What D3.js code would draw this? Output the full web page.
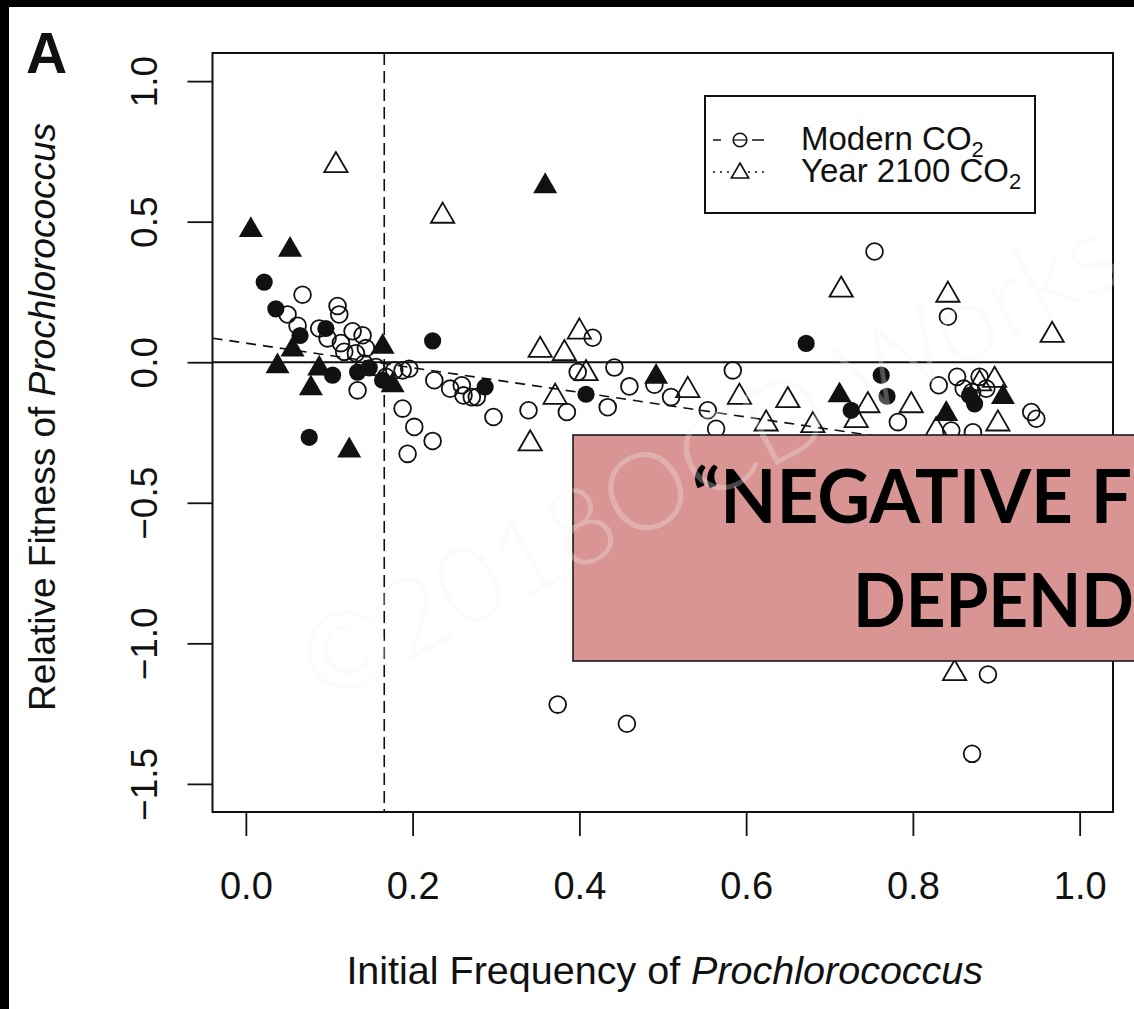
<!DOCTYPE html>
<html><head><meta charset="utf-8">
<script src="https://cdn.jsdelivr.net/npm/d3@7"></script>
<style>html,body{margin:0;padding:0;background:#fff;overflow:hidden}</style>
</head><body><svg id="c" width="1134" height="1009"></svg>
<script>
// ---- data ----
const xTicks = [0, 0.2, 0.4, 0.6, 0.8, 1.0];
const yTicks = [-1.5, -1.0, -0.5, 0.0, 0.5, 1.0];
const legendLabels = ["Modern CO", "Year 2100 CO"];
const thresholdX = 0.166;
const regression = {intercept: 0.068, slope: -0.438};

// Modern CO2, open circles [x, y]
const modernOpen = [
  [0.068,0.24],[0.050,0.17],[0.062,0.13],[0.088,0.12],[0.110,0.20],[0.112,0.17],[0.098,0.085],
  [0.128,0.11],[0.140,0.096],[0.114,0.068],[0.118,0.037],[0.132,0.032],[0.144,0.05],[0.134,-0.10],
  [0.142,-0.005],[0.156,-0.017],[0.168,-0.052],[0.178,-0.029],[0.188,-0.029],[0.196,-0.023],
  [0.226,-0.064],[0.188,-0.165],[0.202,-0.23],[0.224,-0.28],[0.194,-0.326],
  [0.416,0.087],[0.398,-0.035],[0.442,-0.019],[0.46,-0.086],[0.49,-0.08],[0.245,-0.094],
  [0.259,-0.082],[0.261,-0.118],[0.271,-0.124],[0.277,-0.124],[0.297,-0.195],[0.339,-0.171],
  [0.385,-0.177],[0.434,-0.16],
  [0.754,0.394],[0.584,-0.029],[0.510,-0.124],[0.554,-0.171],[0.564,-0.237],[0.782,-0.213],
  [0.842,0.162],[0.831,-0.082],[0.853,-0.052],[0.861,-0.094],[0.871,-0.106],[0.880,-0.052],
  [0.888,-0.094],[0.942,-0.177],[0.948,-0.201],[0.846,-0.243],[0.872,-0.249],
  [0.374,-1.218],[0.457,-1.286],[0.890,-1.111],[0.871,-1.393]
];
// Modern CO2, filled circles
const modernFilled = [
  [0.022,0.285],[0.036,0.19],[0.065,0.095],[0.096,0.12],[0.104,-0.046],[0.134,-0.035],
  [0.148,-0.02],[0.164,-0.064],[0.224,0.076],[0.076,-0.267],[0.287,-0.088],[0.408,-0.114],
  [0.672,0.067],[0.726,-0.171],[0.762,-0.046],[0.769,-0.121],[0.874,-0.148],[0.868,-0.118]
];
// Year 2100 CO2, open triangles
const futureOpen = [
  [0.108,0.70],[0.236,0.52],[0.40,0.108],[0.353,0.043],[0.382,0.031],[0.408,-0.04],
  [0.371,-0.124],[0.341,-0.29],[0.714,0.257],[0.530,-0.10],[0.592,-0.124],[0.650,-0.136],
  [0.624,-0.219],[0.680,-0.225],[0.746,-0.154],[0.732,-0.207],[0.842,0.239],[0.967,0.096],
  [0.798,-0.154],[0.880,-0.076],[0.898,-0.064],[0.902,-0.219],[0.828,-0.243],[0.850,-1.107]
];
// Year 2100 CO2, filled triangles
const futureFilled = [
  [0.006,0.47],[0.053,0.40],[0.056,0.045],[0.038,-0.015],[0.088,-0.023],[0.078,-0.093],
  [0.164,0.055],[0.176,-0.082],[0.124,-0.314],[0.359,0.626],[0.492,-0.052],[0.712,-0.118],
  [0.908,-0.124],[0.840,-0.184]
];
const calloutLines = ["\u201CNEGATIVE F", "DEPEND"];

// ---- drawing ----
const svg = d3.select("#c");
const FONT = "'Liberation Sans', Arial, Helvetica, sans-serif";
svg.append("rect").attr("width",1134).attr("height",1009).attr("fill","#fff");

const L = 212.5, R = 1113, T = 53, B = 812;
const x = d3.scaleLinear().domain([-0.04, 1.04]).range([L, R]);
const y = d3.scaleLinear().domain([-1.6, 1.1]).range([B, T]);

// reference lines
svg.append("line").attr("x1",L).attr("x2",R).attr("y1",y(0)).attr("y2",y(0))
  .attr("stroke","#111").attr("stroke-width",2);
svg.append("line").attr("x1",x(thresholdX)).attr("x2",x(thresholdX)).attr("y1",T).attr("y2",B)
  .attr("stroke","#111").attr("stroke-width",1.6).attr("stroke-dasharray","12,6");
const xr0 = x.invert(L), xr1 = x.invert(R);
svg.append("line")
  .attr("x1",L).attr("y1",y(regression.intercept + regression.slope*xr0))
  .attr("x2",R).attr("y2",y(regression.intercept + regression.slope*xr1))
  .attr("stroke","#111").attr("stroke-width",1.6).attr("stroke-dasharray","10,7");

// points
const tri = d3.symbol().type(d3.symbolTriangle).size(235);
const g = svg.append("g");
g.selectAll("circle.mo").data(modernOpen).join("circle")
  .attr("cx",d=>x(d[0])).attr("cy",d=>y(d[1])).attr("r",8.4)
  .attr("fill","none").attr("stroke","#111").attr("stroke-width",1.8);
g.selectAll("path.fo").data(futureOpen).join("path")
  .attr("transform",d=>`translate(${x(d[0])},${y(d[1])})`).attr("d",tri)
  .attr("fill","none").attr("stroke","#111").attr("stroke-width",1.8);
g.selectAll("circle.mf").data(modernFilled).join("circle")
  .attr("cx",d=>x(d[0])).attr("cy",d=>y(d[1])).attr("r",8.6).attr("fill","#111");
g.selectAll("path.ff").data(futureFilled).join("path")
  .attr("transform",d=>`translate(${x(d[0])},${y(d[1])})`)
  .attr("d",d3.symbol().type(d3.symbolTriangle).size(250)).attr("fill","#111");

// box
svg.append("rect").attr("x",L).attr("y",T).attr("width",R-L).attr("height",B-T)
  .attr("fill","none").attr("stroke","#111").attr("stroke-width",2);

// axes
const fmt = d3.format(".1f");
const xa = svg.append("g").attr("transform",`translate(0,${B})`)
  .call(d3.axisBottom(x).tickValues(xTicks).tickSize(24).tickFormat(fmt));
xa.select(".domain").remove();
xa.selectAll("line").attr("stroke","#111").attr("stroke-width",1.8);
xa.selectAll("text").attr("y",87).attr("dy",0).attr("fill","#111")
  .style("font-family",FONT).style("font-size","38px");

const ya = svg.append("g").attr("transform",`translate(${L},0)`)
  .call(d3.axisLeft(y).tickValues(yTicks).tickSize(25).tickFormat(fmt));
ya.select(".domain").remove();
ya.selectAll("line").attr("stroke","#111").attr("stroke-width",1.8);
ya.selectAll("text").attr("transform","rotate(-90)").attr("x",0).attr("y",-55.5).attr("dy",0)
  .attr("text-anchor","middle").attr("fill","#111")
  .style("font-family",FONT).style("font-size","37px");

// titles
const xt = svg.append("text").attr("x",(L+R)/2 + 2).attr("y",984).attr("text-anchor","middle")
  .attr("fill","#111").style("font-family",FONT).style("font-size","39.5px");
xt.append("tspan").text("Initial Frequency of ");
xt.append("tspan").attr("font-style","italic").text("Prochlorococcus");
const yt = svg.append("text").attr("transform","translate(55,417) rotate(-90)")
  .attr("text-anchor","middle").attr("fill","#111").style("font-family",FONT).style("font-size","37px");
yt.append("tspan").text("Relative Fitness of ");
yt.append("tspan").attr("font-style","italic").text("Prochlorococcus");

svg.append("text").attr("x",26).attr("y",73).attr("fill","#111")
  .style("font-family",FONT).style("font-size","57px").style("font-weight","bold").text("A");

// legend
const lg = svg.append("g");
lg.append("rect").attr("x",705).attr("y",96).attr("width",330).attr("height",117)
  .attr("fill","#fff").attr("stroke","#111").attr("stroke-width",2);
const rows = [140, 172];
lg.append("line").attr("x1",713).attr("x2",721).attr("y1",rows[0]).attr("y2",rows[0])
  .attr("stroke","#111").attr("stroke-width",1.5);
lg.append("line").attr("x1",752).attr("x2",764).attr("y1",rows[0]).attr("y2",rows[0])
  .attr("stroke","#111").attr("stroke-width",1.5);
lg.append("line").attr("x1",733).attr("x2",747).attr("y1",rows[0]).attr("y2",rows[0])
  .attr("stroke","#111").attr("stroke-width",1.2);
lg.append("circle").attr("cx",740).attr("cy",rows[0]).attr("r",6.8)
  .attr("fill","none").attr("stroke","#111").attr("stroke-width",1.6);
lg.append("line").attr("x1",713).attr("x2",765).attr("y1",rows[1]).attr("y2",rows[1])
  .attr("stroke","#111").attr("stroke-width",1.5).attr("stroke-dasharray","2,5");
lg.append("path").attr("transform",`translate(740,${rows[1]+1})`)
  .attr("d",d3.symbol().type(d3.symbolTriangle).size(130))
  .attr("fill","#fff").attr("stroke","#111").attr("stroke-width",1.6);
legendLabels.forEach((t,i)=>{
  const tx = lg.append("text").attr("x",801).attr("y",rows[i]+10).attr("fill","#111")
    .style("font-family",FONT).style("font-size","33px");
  tx.append("tspan").text(t);
  tx.append("tspan").attr("dy",7).style("font-size","22px").text("2");
});

// overlay call-out box
svg.append("rect").attr("x",573).attr("y",435).attr("width",600).attr("height",226)
  .attr("fill","#d99594").attr("stroke","#1a1a1a").attr("stroke-width",1.6);
const BF = "Lato, 'Open Sans', sans-serif";
svg.append("text").attr("x",692).attr("y",523).attr("fill","#000")
  .attr("textLength",440).attr("lengthAdjust","spacingAndGlyphs")
  .style("font-family",BF).style("font-weight","700").style("font-size","74px")
  .text(calloutLines[0]);
svg.append("text").attr("x",853).attr("y",627).attr("fill","#000")
  .attr("textLength",281).attr("lengthAdjust","spacingAndGlyphs")
  .style("font-family",BF).style("font-weight","700").style("font-size","74px")
  .text(calloutLines[1]);

// faint watermark
const wm = svg.append("g").attr("transform","translate(626,545) rotate(-28)");
[["#000",0.018],["#fff",0.28]].forEach(([c,o])=>{
  const t = wm.append("text").attr("fill",c).attr("fill-opacity",o).attr("text-anchor","end")
    .style("font-family","Lato, sans-serif").style("font-weight","300").style("font-size","108px");
  t.text("\u00A92018 ");
  wm.append("text").attr("fill",c).attr("fill-opacity",o)
    .style("font-family","Lato, sans-serif").style("font-weight","300").style("font-size","108px")
    .text("OCD Works");
});

// black frame edges
svg.append("rect").attr("x",0).attr("y",0).attr("width",9).attr("height",1009).attr("fill","#000");
svg.append("rect").attr("x",0).attr("y",0).attr("width",1134).attr("height",7).attr("fill","#000");
</script></body></html>
